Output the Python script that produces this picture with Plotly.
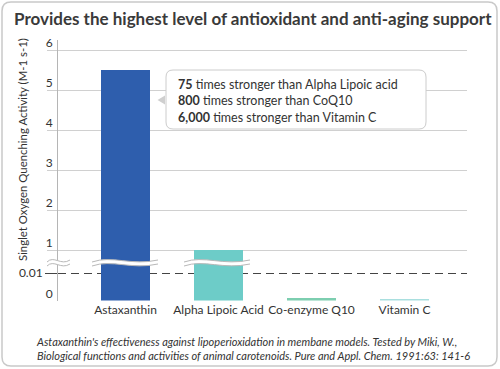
import plotly.graph_objects as go

# ---- data ----
categories = ["Astaxanthin", "Alpha Lipoic Acid", "Co-enzyme Q10", "Vitamin C"]
values = [5.5, 1.0, 0.001, 0.0006]
bar_colors = ["#2e5ead", "#6dccc8", "#7dceb0", "#a9dfdf"]
upper_ticks = [1, 2, 3, 4, 5, 6]
lower_ticks = [0]
break_tick = [0.01]
callout_lines = [("75", "times stronger than Alpha Lipoic acid"),
                 ("800", "times stronger than CoQ10"),
                 ("6,000", "times stronger than Vitamin C")]
title_text = "Provides the highest level of antioxidant and anti-aging support"
ytitle = "Singlet Oxygen Quenching Activity (M-1 s-1)"
caption = ("Astaxanthin's effectiveness against lipoperioxidation in membane models. Tested by Miki, W.,<br>"
           "Biological functions and activities of animal carotenoids. Pure and Appl. Chem. 1991:63: 141-6")

W, H = 500, 369
FONT = "Lato"
TXT = "#333333"


def X(x):
    return x / W


def Y(y):
    return 1 - y / H


def rrect(x0, y0, x1, y1, r):
    return (f"M {X(x0+r)},{Y(y0)} L {X(x1-r)},{Y(y0)} Q {X(x1)},{Y(y0)} {X(x1)},{Y(y0+r)} "
            f"L {X(x1)},{Y(y1-r)} Q {X(x1)},{Y(y1)} {X(x1-r)},{Y(y1)} "
            f"L {X(x0+r)},{Y(y1)} Q {X(x0)},{Y(y1)} {X(x0)},{Y(y1-r)} "
            f"L {X(x0)},{Y(y0+r)} Q {X(x0)},{Y(y0)} {X(x0+r)},{Y(y0)} Z")


def wave_shapes(x0, x1, yc, gap=4):
    w = x1 - x0
    up = f"M {X(x0)},{Y(yc+1)} C {X(x0+w*0.3)},{Y(yc-6)} {X(x0+w*0.6)},{Y(yc+5)} {X(x1)},{Y(yc-1)}"
    lo = f"M {X(x0)},{Y(yc+1+gap)} C {X(x0+w*0.3)},{Y(yc-6+gap)} {X(x0+w*0.6)},{Y(yc+5+gap)} {X(x1)},{Y(yc-1+gap)}"
    band = (f"M {X(x0)},{Y(yc+1)} C {X(x0+w*0.3)},{Y(yc-6)} {X(x0+w*0.6)},{Y(yc+5)} {X(x1)},{Y(yc-1)} "
            f"L {X(x1)},{Y(yc-1+gap)} C {X(x0+w*0.6)},{Y(yc+5+gap)} {X(x0+w*0.3)},{Y(yc-6+gap)} {X(x0)},{Y(yc+1+gap)} Z")
    return [
        dict(type="path", path=band, xref="paper", yref="paper", fillcolor="white",
             line=dict(width=0), layer="above"),
        dict(type="path", path=up, xref="paper", yref="paper", line=dict(color="#b8b8b8", width=1), layer="above"),
        dict(type="path", path=lo, xref="paper", yref="paper", line=dict(color="#b8b8b8", width=1), layer="above"),
    ]


fig = go.Figure()
bar_width = 0.527
fig.add_trace(go.Bar(x=categories, y=values, marker=dict(color=bar_colors, line=dict(width=0)),
                     width=[bar_width] * len(categories), xaxis="x", yaxis="y", hoverinfo="skip"))
fig.add_trace(go.Bar(x=categories, y=values, marker=dict(color=bar_colors, line=dict(width=0)),
                     width=[bar_width] * len(categories), xaxis="x", yaxis="y2", hoverinfo="skip"))
# empty trace so the overlaid 0.01 axis is drawn
fig.add_trace(go.Scatter(x=[categories[0]], y=[None], xaxis="x", yaxis="y3", mode="markers",
                         hoverinfo="skip", showlegend=False))

plot_left, plot_right = 58, 467
upper_top, break_y, bottom = 40, 262, 300.5

shapes = []
shapes.append(dict(type="path", path=rrect(2, 2, 497, 366, 9), xref="paper", yref="paper",
                   line=dict(color="#c9c9c9", width=1.5), fillcolor="rgba(0,0,0,0)", layer="below"))
shapes.append(dict(type="path", path=rrect(166, 70, 426, 129, 7), xref="paper", yref="paper",
                   line=dict(color="#cccccc", width=1), fillcolor="white", layer="above"))
shapes.append(dict(type="path",
                   path=f"M {X(165)},{Y(95.5)} L {X(157.5)},{Y(100)} L {X(165)},{Y(104.5)} Z",
                   xref="paper", yref="paper", line=dict(width=0), fillcolor="#cfcfcf", layer="above"))
shapes += wave_shapes(47, 70, 261)
shapes += wave_shapes(92, 158, 261)
shapes += wave_shapes(184, 250, 261)

callout_text = "<br>".join(f"<b>{a}</b> {b}" for a, b in callout_lines)

annotations = [
    dict(text=title_text, x=X(12), y=Y(18), xref="paper", yref="paper", xanchor="left", yanchor="middle",
         showarrow=False, font=dict(family=FONT, size=17, color="#3a3a3a", weight=700)),
    dict(text=ytitle, x=X(22), y=Y(150), xref="paper", yref="paper", textangle=-90,
         xanchor="center", yanchor="middle", showarrow=False, font=dict(family=FONT, size=11.4, color=TXT)),
    dict(text=callout_text, x=X(176), y=Y(100.5), xref="paper", yref="paper", xanchor="left",
         yanchor="middle", align="left", showarrow=False, font=dict(family=FONT, size=12.5, color=TXT)),
    dict(text=caption, x=X(253), y=Y(348), xref="paper", yref="paper", xanchor="center", yanchor="middle",
         align="left", showarrow=False, font=dict(family=FONT, size=11, color=TXT, style="italic")),
]

axis_font = dict(family=FONT, size=12, color=TXT)
fig.update_layout(
    width=W, height=H, autosize=False,
    margin=dict(l=0, r=0, t=0, b=0, pad=0, autoexpand=False),
    paper_bgcolor="white", plot_bgcolor="rgba(0,0,0,0)",
    showlegend=False, bargap=0,
    font=dict(family=FONT, color=TXT),
    xaxis=dict(domain=[X(plot_left), X(plot_right)], anchor="y2", type="category",
               range=[-0.726, 3.672], showgrid=False, showline=False, ticks="", tickangle=0,
               automargin=False, tickfont=dict(family=FONT, size=12, color=TXT), fixedrange=True),
    yaxis=dict(domain=[Y(break_y), Y(upper_top)], anchor="x", range=[0.7, 6.25],
               tickvals=upper_ticks, ticktext=[str(t) for t in upper_ticks],
               showgrid=True, gridcolor="#d0d0d0", gridwidth=1, automargin=False,
               showline=True, linecolor="#b5b5b5", linewidth=1,
               ticks="outside", ticklen=10, tickcolor="#d0d0d0",
               ticklabelshift=-7, ticklabelstandoff=-8, tickfont=axis_font, zeroline=False),
    yaxis2=dict(domain=[Y(bottom), Y(break_y)], anchor="x", range=[0, 0.014],
                tickvals=lower_ticks, ticktext=["0"], showgrid=False, automargin=False,
                showline=True, linecolor="#b5b5b5", linewidth=1, ticks="",
                ticklabelshift=-7, ticklabelstandoff=2, tickfont=axis_font, zeroline=False),
    yaxis3=dict(overlaying="y2", anchor="x", side="left", range=[0, 0.014], automargin=False,
                tickvals=break_tick, ticktext=["0.01"], showgrid=True, gridcolor="#444444",
                gridwidth=1, griddash="8px,5px", ticks="outside", ticklen=12, tickcolor="#444444",
                showline=False, tickfont=axis_font, zeroline=False),
    shapes=shapes,
    annotations=annotations,
)

fig.write_html("out.html", config=dict(displayModeBar=False, staticPlot=True),
               post_script="document.body.style.margin='0';document.body.style.padding='0';")
